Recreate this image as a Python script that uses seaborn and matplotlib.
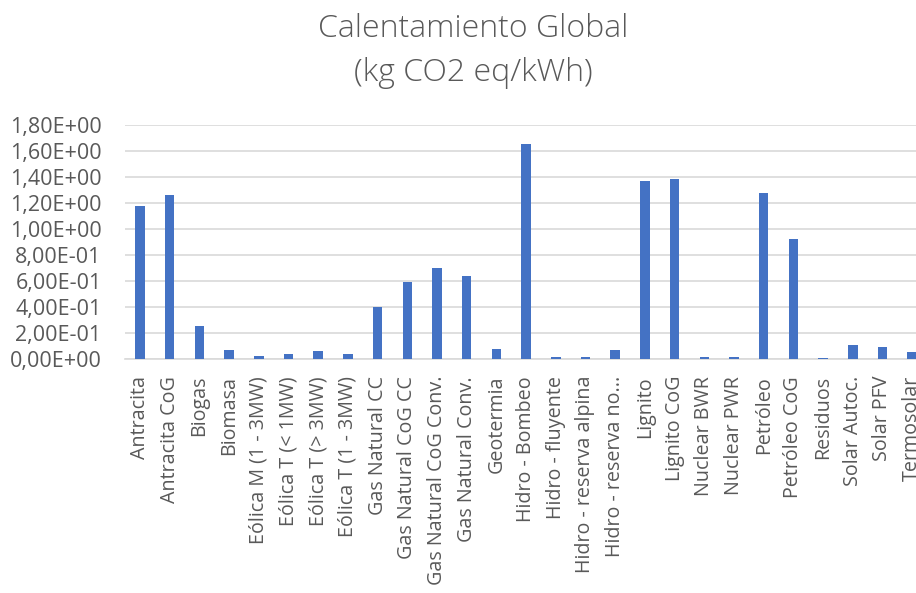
import matplotlib
matplotlib.use("Agg")
import matplotlib.pyplot as plt
import matplotlib.ticker as mticker
import seaborn as sns
import pandas as pd

categorias = [
    "Antracita", "Antracita CoG", "Biogas", "Biomasa",
    "Eólica M (1 - 3MW)", "Eólica T (< 1MW)", "Eólica T (> 3MW)", "Eólica T (1 - 3MW)",
    "Gas Natural CC", "Gas Natural CoG CC", "Gas Natural CoG Conv.", "Gas Natural Conv.",
    "Geotermia", "Hidro - Bombeo", "Hidro - fluyente", "Hidro - reserva alpina",
    "Hidro - reserva no...", "Lignito", "Lignito CoG", "Nuclear BWR", "Nuclear PWR",
    "Petróleo", "Petróleo CoG", "Residuos", "Solar Autoc.", "Solar PFV", "Termosolar",
]
valores = [
    1.18, 1.26, 0.253, 0.072,
    0.028, 0.041, 0.064, 0.041,
    0.400, 0.594, 0.699, 0.640,
    0.082, 1.650, 0.018, 0.020,
    0.068, 1.368, 1.385, 0.020, 0.020,
    1.277, 0.921, 0.012, 0.110, 0.094, 0.058,
]
y_ticks = [0.0, 0.2, 0.4, 0.6, 0.8, 1.0, 1.2, 1.4, 1.6, 1.8]

df = pd.DataFrame({"Tecnología": categorias, "Valor": valores})

sns.set_theme(style="white")
plt.rcParams["font.family"] = ["Open Sans", "DejaVu Sans"]
texto = "#595959"

fig = plt.figure(figsize=(9.16, 5.93), dpi=100)
W, H = 916, 593
left_px, right_px = 125.2, 927.0
bottom_px, top_px = 359.3, 124.7
ax = fig.add_axes([left_px / W, 1 - bottom_px / H,
                   (right_px - left_px) / W, (bottom_px - top_px) / H])

sns.barplot(data=df, x="Tecnología", y="Valor", color="#4472C4",
            width=0.32, saturation=1, ax=ax, zorder=3,
            edgecolor="#4472C4", linewidth=0)

ax.set_xlim(-0.5, len(categorias) - 0.5)
ax.set_ylim(0, 1.8)
ax.set_yticks(y_ticks)
ax.yaxis.set_major_formatter(
    mticker.FuncFormatter(lambda v, p: f"{v:.2E}".replace(".", ",")))
ax.grid(axis="y", color="#D9D9D9", linewidth=1.2, zorder=0)
ax.grid(axis="x", visible=False)
for s in ["top", "right", "left"]:
    ax.spines[s].set_visible(False)
ax.spines["bottom"].set_color("#D9D9D9")
ax.spines["bottom"].set_linewidth(1.2)
ax.set_xlabel("")
ax.set_ylabel("")
ax.tick_params(axis="y", length=0, pad=17, labelsize=15.5, labelcolor=texto)
ax.tick_params(axis="x", length=0, pad=12, labelsize=14.2, labelcolor=texto)
for lab in ax.get_xticklabels():
    lab.set_rotation(90)
    lab.set_ha("center")
    lab.set_va("top")

fig.text(473 / W, 1 - 29 / H, "Calentamiento Global", ha="center", va="center",
         fontsize=23, color=texto, fontweight="light")
fig.text(473 / W, 1 - 73 / H, "(kg CO2 eq/kWh)", ha="center", va="center",
         fontsize=23, color=texto, fontweight="light")

fig.savefig("out.png", dpi=100, facecolor="white")
